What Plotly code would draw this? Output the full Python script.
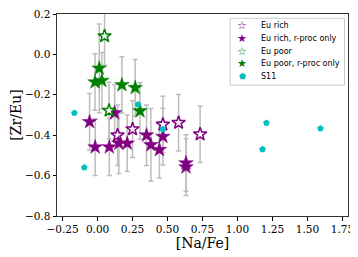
import plotly.graph_objects as go

# ---- data ----
eu_rich_x = [0.143, 0.250, 0.467, 0.579, 0.733]
eu_rich_y = [-0.400, -0.370, -0.347, -0.338, -0.395]
eu_rich_err = [0.15, 0.14, 0.14, 0.14, 0.14]

eu_rich_r_x = [-0.057, 0.122, -0.017, 0.084, 0.152, 0.212, 0.350, 0.381, 0.442, 0.467, 0.632, 0.632]
eu_rich_r_y = [-0.334, -0.290, -0.459, -0.459, -0.440, -0.440, -0.400, -0.448, -0.472, -0.407, -0.538, -0.558]
eu_rich_r_err = [0.14, 0.14, 0.14, 0.14, 0.15, 0.14, 0.15, 0.18, 0.14, 0.14, 0.14, 0.14]

eu_poor_x = [0.050, 0.082]
eu_poor_y = [0.091, -0.278]
eu_poor_err = [0.145, 0.14]

eu_poor_r_x = [0.012, -0.018, 0.031, 0.174, 0.269, 0.303]
eu_poor_r_y = [-0.069, -0.137, -0.130, -0.151, -0.165, -0.280]
eu_poor_r_err = [0.22, 0.14, 0.14, 0.14, 0.14, 0.14]

s11_x = [-0.166, -0.095, 0.289, 0.467, 1.207, 1.179, 1.593]
s11_y = [-0.290, -0.560, -0.248, -0.371, -0.339, -0.470, -0.367]

x_ticks = [-0.25, 0.0, 0.25, 0.5, 0.75, 1.0, 1.25, 1.5, 1.75]
y_ticks = [-0.8, -0.6, -0.4, -0.2, 0.0, 0.2]
y_tick_text = ["−0.8", "−0.6", "−0.4", "−0.2", "0.0", "0.2"]

legend_labels = ["Eu rich", "Eu rich, r-proc only", "Eu poor", "Eu poor, r-proc only", "S11"]

PURPLE = "#800080"
GREEN = "#008000"
CYAN = "#00bfbf"
ERRC = "#bdbdbd"

fig = go.Figure()

# error bars first (beneath markers)
for xs, ys, es in [(eu_rich_x, eu_rich_y, eu_rich_err),
                   (eu_rich_r_x, eu_rich_r_y, eu_rich_r_err),
                   (eu_poor_x, eu_poor_y, eu_poor_err),
                   (eu_poor_r_x, eu_poor_r_y, eu_poor_r_err)]:
    fig.add_trace(go.Scatter(
        x=xs, y=ys, mode="markers",
        marker=dict(size=1, opacity=0),
        error_y=dict(type="data", array=es, visible=True, color=ERRC,
                     thickness=1.5, width=2.5),
        showlegend=False, hoverinfo="skip"))

fig.add_trace(go.Scatter(x=eu_rich_x, y=eu_rich_y, mode="markers", name=legend_labels[0],
                         marker=dict(symbol="star", size=10, color="white",
                                     line=dict(color=PURPLE, width=1.5)),
                         showlegend=False))
fig.add_trace(go.Scatter(x=eu_rich_r_x, y=eu_rich_r_y, mode="markers", name=legend_labels[1],
                         marker=dict(symbol="star", size=11, color=PURPLE,
                                     line=dict(color=PURPLE, width=0.5)),
                         showlegend=False))
fig.add_trace(go.Scatter(x=eu_poor_x, y=eu_poor_y, mode="markers", name=legend_labels[2],
                         marker=dict(symbol="star", size=10, color="white",
                                     line=dict(color=GREEN, width=1.5)),
                         showlegend=False))
fig.add_trace(go.Scatter(x=eu_poor_r_x, y=eu_poor_r_y, mode="markers", name=legend_labels[3],
                         marker=dict(symbol="star", size=11, color=GREEN,
                                     line=dict(color=GREEN, width=0.5)),
                         showlegend=False))
fig.add_trace(go.Scatter(x=s11_x, y=s11_y, mode="markers", name=legend_labels[4],
                         marker=dict(symbol="pentagon", size=7, color=CYAN,
                                     line=dict(width=0)),
                         showlegend=False))

# manual compact legend (matplotlib style)
shapes = [dict(type="rect", xref="paper", yref="paper",
               x0=0.595, x1=0.988, y0=0.648, y1=0.979,
               line=dict(color="#cccccc", width=1),
               fillcolor="rgba(255,255,255,0.8)")]
sym = [("☆", PURPLE, 11), ("★", PURPLE, 11), ("☆", GREEN, 11), ("★", GREEN, 11), ("⬟", CYAN, 8)]
rows = [0.9455, 0.8795, 0.8166, 0.7556, 0.689]
annotations = []
for (s, c, fs), yy, lab in zip(sym, rows, legend_labels):
    annotations.append(dict(xref="paper", yref="paper", x=0.6374, y=yy, text=s,
                            showarrow=False, xanchor="center", yanchor="middle",
                            font=dict(family="DejaVu Sans", size=fs, color=c)))
    annotations.append(dict(xref="paper", yref="paper", x=0.6925, y=yy, text=lab,
                            showarrow=False, xanchor="left", yanchor="middle",
                            font=dict(family="DejaVu Sans", size=8, color="black")))

# page body has an 8px default margin, so the figure is sized/offset to compensate
fig.update_layout(
    width=350, height=249,
    margin=dict(l=49, r=10, t=6, b=41, autoexpand=False),
    paper_bgcolor="white", plot_bgcolor="white",
    shapes=shapes, annotations=annotations,
    showlegend=False,
    font=dict(family="DejaVu Serif", size=10, color="black"),
)
fig.update_xaxes(range=[-0.29, 1.79], tickvals=x_ticks, tickformat=".2f",
                 ticks="outside", ticklen=3.5, tickwidth=1, tickcolor="black",
                 showline=True, linecolor="#333333", linewidth=1, mirror=True,
                 showgrid=False, zeroline=False, automargin=False,
                 ticklabeloverflow="allow",
                 title=dict(text="[Na/Fe]", font=dict(family="DejaVu Serif", size=14), standoff=4),
                 tickfont=dict(family="DejaVu Serif", size=10.5))
fig.update_yaxes(range=[-0.8, 0.2001], tickvals=y_ticks, ticktext=y_tick_text,
                 ticks="outside", ticklen=3.5, tickwidth=1, tickcolor="black",
                 showline=True, linecolor="#333333", linewidth=1, mirror=True,
                 showgrid=False, zeroline=False, automargin=False,
                 ticklabeloverflow="allow",
                 title=dict(text="[Zr/Eu]", font=dict(family="DejaVu Serif", size=14), standoff=4),
                 tickfont=dict(family="DejaVu Serif", size=10.5))

fig.write_html("out.html")
